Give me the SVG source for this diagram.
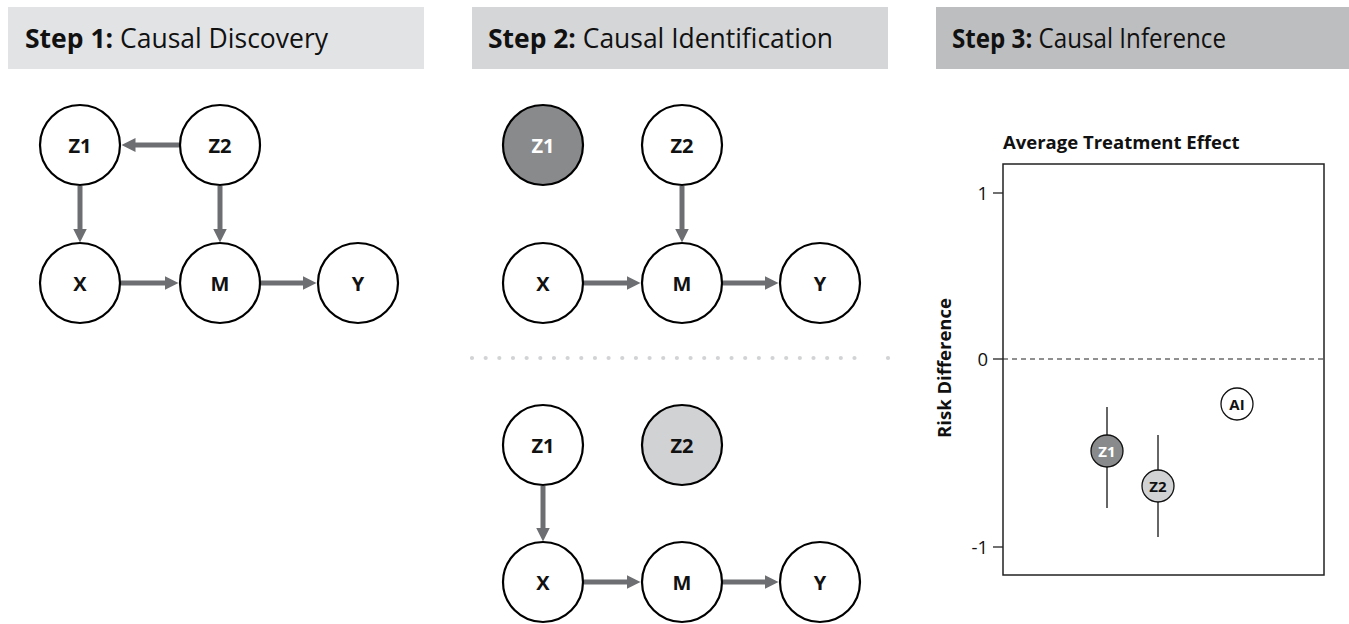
<svg xmlns="http://www.w3.org/2000/svg" width="1349" height="624" viewBox="0 0 1349 624">
<defs>
<style>
.hdr{font-family:"Open Sans","Liberation Sans",sans-serif;font-size:26.5px;fill:#111}
.hdr .b{font-weight:bold}
.node circle{stroke:#000;stroke-width:2.2;fill:#fff}
.node text{font-family:"Open Sans","Liberation Sans",sans-serif;font-weight:bold;font-size:20px;fill:#111;text-anchor:middle;dominant-baseline:central}
.edge{stroke:#6d6e71;stroke-width:5;fill:none;marker-end:url(#ah)}
.ax{font-family:"Open Sans","Liberation Sans",sans-serif;font-size:18.5px;fill:#111}
.pt circle{stroke:#111;stroke-width:1.3}
.pt text{font-family:"Open Sans","Liberation Sans",sans-serif;font-weight:bold;font-size:15px;text-anchor:middle;dominant-baseline:central}
</style>
<marker id="ah" viewBox="0 0 14 14" markerWidth="14" markerHeight="14" markerUnits="userSpaceOnUse" refX="0.5" refY="7" orient="auto">
<path d="M0,0 L14,7 L0,14 z" fill="#6d6e71"/>
</marker>
</defs>
<rect width="1349" height="624" fill="#fff"/>

<g id="header1">
<rect x="8" y="7" width="416" height="62" fill="#e2e3e5"/>
<text class="hdr" x="25" y="48" textLength="303" lengthAdjust="spacingAndGlyphs"><tspan class="b">Step 1:</tspan> Causal Discovery</text>
</g>
<g id="header2">
<rect x="472" y="7" width="416" height="62" fill="#d5d6d8"/>
<text class="hdr" x="488" y="48" textLength="345" lengthAdjust="spacingAndGlyphs"><tspan class="b">Step 2:</tspan> Causal Identification</text>
</g>
<g id="header3">
<rect x="936" y="7" width="413" height="62" fill="#bdbec0"/>
<text class="hdr" x="952" y="48" textLength="274" lengthAdjust="spacingAndGlyphs"><tspan class="b">Step 3:</tspan> Causal Inference</text>
</g>

<g id="connectors">
<line class="edge" x1="179" y1="145" x2="135" y2="145"/>
<line class="edge" x1="80" y1="186" x2="80" y2="229"/>
<line class="edge" x1="220" y1="186" x2="220" y2="229"/>
<line class="edge" x1="121" y1="283" x2="165" y2="283"/>
<line class="edge" x1="261" y1="283" x2="303" y2="283"/>

<line class="edge" x1="682" y1="186" x2="682" y2="229"/>
<line class="edge" x1="584" y1="283" x2="627" y2="283"/>
<line class="edge" x1="723" y1="283" x2="765" y2="283"/>

<line class="edge" x1="543" y1="486" x2="543" y2="528"/>
<line class="edge" x1="584" y1="582" x2="627" y2="582"/>
<line class="edge" x1="723" y1="582" x2="765" y2="582"/>
</g>

<g id="s1-Z1" class="node"><circle cx="80" cy="145" r="40"/><text x="80" y="145">Z1</text></g>
<g id="s1-Z2" class="node"><circle cx="220" cy="145" r="40"/><text x="220" y="145">Z2</text></g>
<g id="s1-X" class="node"><circle cx="80" cy="283" r="40"/><text x="80" y="283">X</text></g>
<g id="s1-M" class="node"><circle cx="220" cy="283" r="40"/><text x="220" y="283">M</text></g>
<g id="s1-Y" class="node"><circle cx="358" cy="283" r="40"/><text x="358" y="283">Y</text></g>

<g id="s2a-Z1" class="node"><circle cx="543" cy="145" r="40" style="fill:#898a8c"/><text x="543" y="145" style="fill:#fff">Z1</text></g>
<g id="s2a-Z2" class="node"><circle cx="682" cy="145" r="40"/><text x="682" y="145">Z2</text></g>
<g id="s2a-X" class="node"><circle cx="543" cy="283" r="40"/><text x="543" y="283">X</text></g>
<g id="s2a-M" class="node"><circle cx="682" cy="283" r="40"/><text x="682" y="283">M</text></g>
<g id="s2a-Y" class="node"><circle cx="820" cy="283" r="40"/><text x="820" y="283">Y</text></g>

<g id="separator">
<line x1="472" y1="358" x2="868" y2="358" stroke="#d2d3d5" stroke-width="4.2" stroke-linecap="round" stroke-dasharray="0 13.66"/>
<circle cx="888" cy="358" r="2.1" fill="#d2d3d5"/>
</g>

<g id="s2b-Z1" class="node"><circle cx="543" cy="445" r="40"/><text x="543" y="445">Z1</text></g>
<g id="s2b-Z2" class="node"><circle cx="682" cy="445" r="40" style="fill:#d1d2d4"/><text x="682" y="445">Z2</text></g>
<g id="s2b-X" class="node"><circle cx="543" cy="582" r="40"/><text x="543" y="582">X</text></g>
<g id="s2b-M" class="node"><circle cx="682" cy="582" r="40"/><text x="682" y="582">M</text></g>
<g id="s2b-Y" class="node"><circle cx="820" cy="582" r="40"/><text x="820" y="582">Y</text></g>

<g id="chart">
<text class="ax" x="1003" y="149" font-weight="bold">Average Treatment Effect</text>
<rect x="1003" y="164" width="321" height="411" fill="none" stroke="#222" stroke-width="1.5"/>
<line x1="993" y1="193" x2="1003" y2="193" stroke="#222" stroke-width="1.3"/>
<line x1="993" y1="359" x2="1003" y2="359" stroke="#222" stroke-width="1.3"/>
<line x1="993" y1="547" x2="1003" y2="547" stroke="#222" stroke-width="1.3"/>
<text class="ax" x="988" y="200" text-anchor="end">1</text>
<text class="ax" x="988" y="366" text-anchor="end">0</text>
<text class="ax" x="988" y="554" text-anchor="end">-1</text>
<line x1="1003" y1="359" x2="1324" y2="359" stroke="#222" stroke-width="1.2" stroke-dasharray="5 4"/>
<text class="ax" font-weight="bold" text-anchor="middle" transform="translate(951,368) rotate(-90)">Risk Difference</text>
<line x1="1107" y1="407" x2="1107" y2="508" stroke="#333" stroke-width="1.5"/>
<line x1="1158" y1="435" x2="1158" y2="537" stroke="#333" stroke-width="1.5"/>
</g>
<g id="pt-Z1" class="pt"><circle cx="1107" cy="451" r="16" fill="#898a8c"/><text x="1107" y="451" fill="#fff">Z1</text></g>
<g id="pt-Z2" class="pt"><circle cx="1158" cy="486" r="16" fill="#d1d2d4"/><text x="1158" y="486" fill="#111">Z2</text></g>
<g id="pt-AI" class="pt"><circle cx="1237" cy="404" r="16" fill="#fff"/><text x="1237" y="404" fill="#111">AI</text></g>
</svg>
